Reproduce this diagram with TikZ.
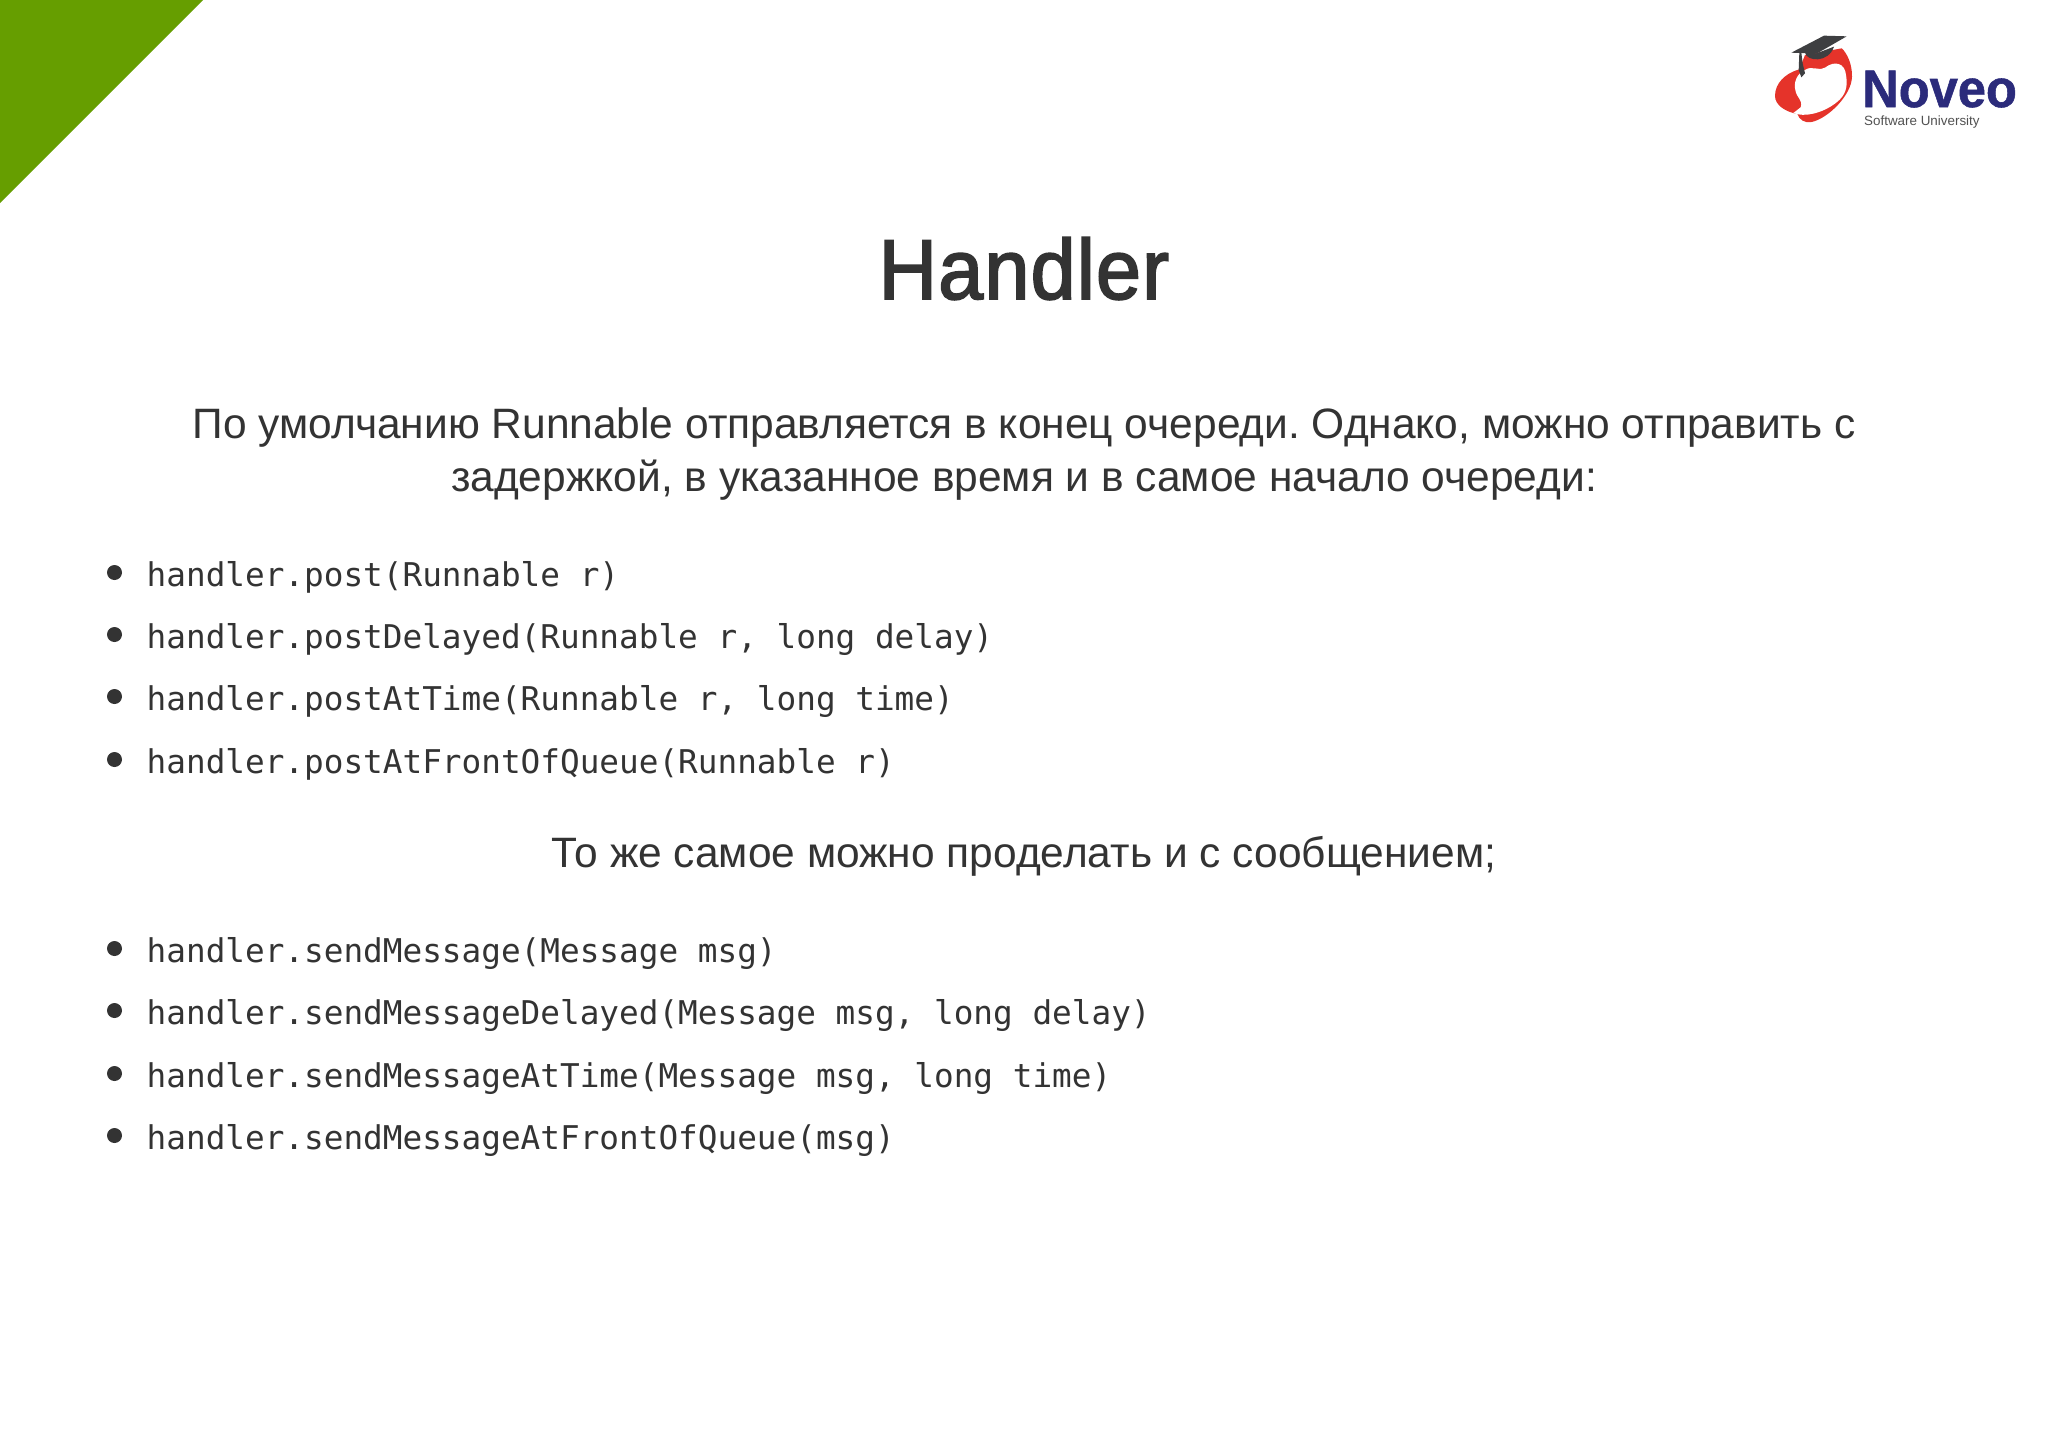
\documentclass[tikz,border=0pt]{standalone}
\usepackage{fontspec}
\setmainfont{Liberation Sans}
\newfontfamily\codefont{DejaVu Sans Mono}
\newfontfamily\titlefont[FakeBold=2.2,FakeStretch=0.95,LetterSpace=1.5]{Liberation Sans}
\newfontfamily\brandfont[FakeBold=1,FakeStretch=0.955]{Liberation Sans Bold}
\definecolor{ink}{HTML}{333333}
\definecolor{leaf}{HTML}{669E00}
\definecolor{logored}{HTML}{E5332A}
\definecolor{lognavy}{HTML}{2B2B7B}
\definecolor{capgray}{HTML}{3E3F41}
\tikzset{
  codeline/.style={anchor=base west,inner sep=0pt,text=ink,font=\codefont\fontsize{32.7}{36}\selectfont},
  bodyline/.style={anchor=base,inner sep=0pt,text=ink,font=\frenchspacing\fontsize{42.5}{46}\selectfont},
  titleline/.style={anchor=base,inner sep=0pt,text=ink,font=\titlefont\fontsize{85}{90}\selectfont},
  dotmark/.style={circle,fill=ink,inner sep=0pt,minimum size=15pt}
}
\begin{document}
\begin{tikzpicture}[x=1pt,y=1pt]
\useasboundingbox[fill=white] (0,0) rectangle (2048,-1449);
\fill[leaf] (0,0) -- (203,0) -- (0,-203) -- cycle;
\node[titleline] (title) at (1024,-299) {Handler};
\node[bodyline] (intro1) at (1024,-438) {По умолчанию Runnable отправляется в конец очереди. Однако, можно отправить с};
\node[bodyline] (intro2) at (1024,-491) {задержкой, в указанное время и в самое начало очереди:};
\node[bodyline] (intro3) at (1024,-867) {То же самое можно проделать и с сообщением;};
\foreach \nm/\yy/\tx in {
 a/586/{handler.post(Runnable r)},
 b/648/{handler.postDelayed(Runnable r, long delay)},
 c/710/{handler.postAtTime(Runnable r, long time)},
 d/773/{handler.postAtFrontOfQueue(Runnable r)},
 e/962/{handler.sendMessage(Message msg)},
 f/1024/{handler.sendMessageDelayed(Message msg, long delay)},
 g/1087/{handler.sendMessageAtTime(Message msg, long time)},
 h/1149/{handler.sendMessageAtFrontOfQueue(msg)}}{
  \node[codeline] (code\nm) at (146.5,-\yy) {\tx};
  \node[dotmark] (dot\nm) at (114.5,-\yy+13.5) {};
}
% logo
\begin{scope}[shift={(1760,-20)},x=0.3333pt,y=-0.3333pt]
 \fill[logored] (118,148) .. controls (75,160) and (45,190) .. (45,228)
   .. controls (45,255) and (75,275) .. (112,282)
   .. controls (118,300) and (135,310) .. (155,306)
   .. controls (205,295) and (275,225) .. (276,170)
   .. controls (277,135) and (262,100) .. (245,85)
   -- (135,105) -- cycle;
 \fill[white] (135,150) .. controls (110,160) and (100,190) .. (106,210)
   .. controls (110,235) and (130,240) .. (122,262)
   -- (100,279) -- (114,283)
   .. controls (150,290) and (205,272) .. (240,238)
   .. controls (262,215) and (262,190) .. (258,165)
   .. controls (255,130) and (225,120) .. (195,143)
   .. controls (180,155) and (155,135) .. (135,150) -- cycle;
 \fill[capgray] (135,98) .. controls (140,125) and (205,130) .. (222,80) -- (170,100) -- cycle;
 \fill[capgray] (94,98) -- (192,47) -- (260,49) -- (170,101) -- cycle;
 \fill[capgray] (118,98) -- (124,98) -- (128,130) -- (135,160) -- (124,172) -- (116,150) -- cycle;
\end{scope}
\node[anchor=base west,inner sep=0pt,text=lognavy,font=\brandfont\fontsize{53}{56}\selectfont] (brand) at (1862,-107) {Noveo};
\node[anchor=base west,inner sep=0pt,text=ink!85,font=\fontsize{13.4}{15}\selectfont] (sub) at (1864,-125) {Software University};
\end{tikzpicture}
\end{document}
